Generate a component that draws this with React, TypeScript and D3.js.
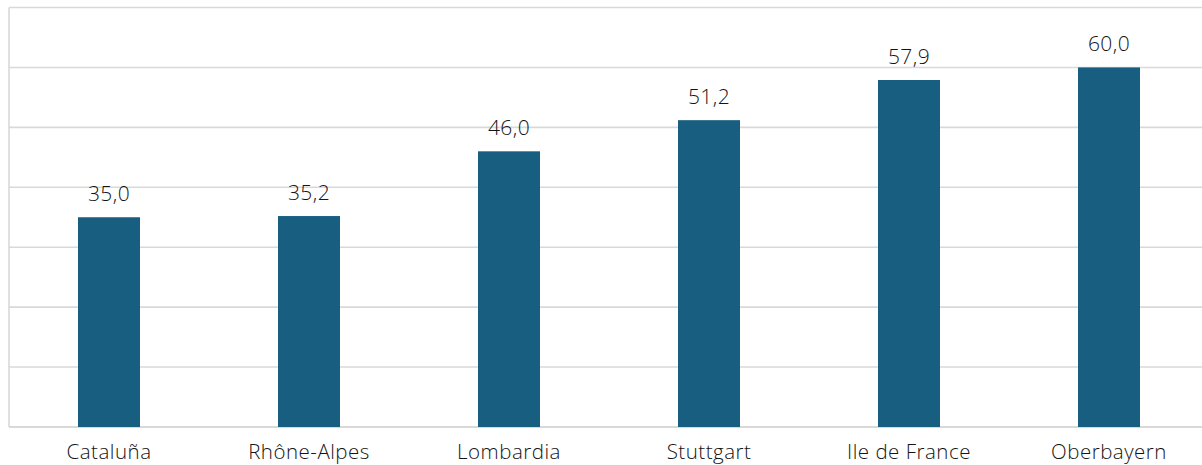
import React from 'react';
import * as d3 from 'd3';

const regions = ['Cataluña', 'Rhône-Alpes', 'Lombardia', 'Stuttgart', 'Ile de France', 'Oberbayern'];
const values = [35.0, 35.2, 46.0, 51.2, 57.9, 60.0];
const gridValues = [0, 10, 20, 30, 40, 50, 60, 70];

export default function App() {
  const w = 1202;
  const h = 465;
  const left = 9;
  const right = 1209;
  const top = 7.5;
  const bottom = 427;

  const x = d3.scaleBand<string>().domain(regions).range([left, right]).paddingInner(0.69).paddingOuter(0.345);
  const y = d3.scaleLinear().domain([0, 70]).range([bottom, top]);
  const fmt = (v: number) => d3.format('.1f')(v).replace('.', ',');
  const font = "'Open Sans', Lato, sans-serif";

  return (
    <svg width={w} height={h} style={{ position: 'absolute', left: 0, top: 0, background: '#fff' }}>
      {gridValues.map((g) => (
        <line key={g} x1={left} x2={right} y1={y(g)} y2={y(g)} stroke="#d9d9d9" strokeWidth={g === 0 ? 2 : 1.6} />
      ))}
      <line x1={left} x2={left} y1={top} y2={bottom} stroke="#d9d9d9" strokeWidth={1.6} />
      {regions.map((r, i) => (
        <g key={r}>
          <rect x={x(r)} y={y(values[i])} width={x.bandwidth()} height={bottom - y(values[i])} fill="#175e80" />
          <text
            x={(x(r) as number) + x.bandwidth() / 2}
            y={y(values[i]) - 16}
            textAnchor="middle"
            fontFamily={font}
            fontSize={21}
            fontWeight={300}
            letterSpacing={0.4}
            fill="#141414"
          >
            {fmt(values[i])}
          </text>
          <text
            x={(x(r) as number) + x.bandwidth() / 2}
            y={459}
            textAnchor="middle"
            fontFamily={font}
            fontSize={20.5}
            fontWeight={300}
            letterSpacing={0.5}
            fill="#141414"
          >
            {r}
          </text>
        </g>
      ))}
    </svg>
  );
}
